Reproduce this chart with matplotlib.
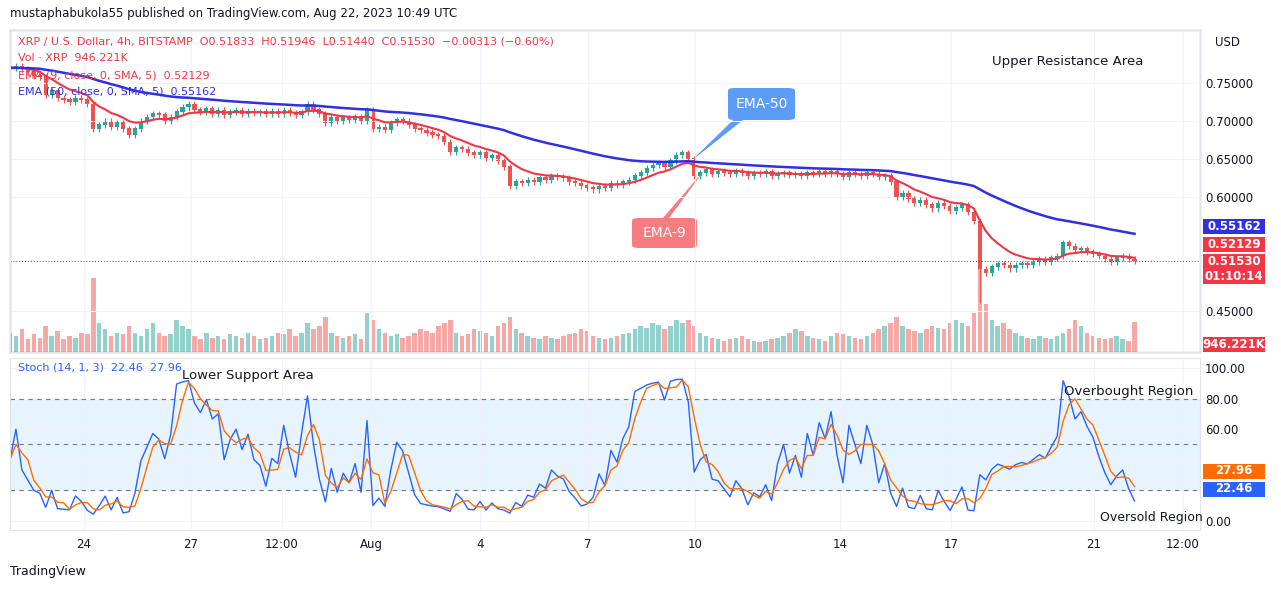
import matplotlib.pyplot as plt
import numpy as np
import pandas as pd
from matplotlib.patches import FancyBboxPatch, Polygon

W, H = 1281, 589

closes = [
    0.770, 0.772, 0.768, 0.765, 0.760, 0.758,
    0.735, 0.740, 0.730, 0.728, 0.725, 0.730,
    0.728, 0.722, 0.690, 0.695, 0.700, 0.692,
    0.698, 0.690, 0.682, 0.690, 0.700, 0.705,
    0.710, 0.708, 0.700, 0.705, 0.712, 0.718,
    0.722, 0.715, 0.712, 0.716, 0.710, 0.714,
    0.708, 0.712, 0.714, 0.710, 0.713, 0.711,
    0.712, 0.709, 0.713, 0.710, 0.714, 0.711,
    0.708, 0.712, 0.722, 0.715, 0.710, 0.698,
    0.705, 0.700, 0.704, 0.702, 0.706, 0.700,
    0.715, 0.690, 0.692, 0.688, 0.698, 0.702,
    0.700, 0.695, 0.690, 0.688, 0.685, 0.682,
    0.680, 0.672, 0.660, 0.665, 0.663, 0.658,
    0.655, 0.658, 0.652, 0.654, 0.648, 0.640,
    0.615, 0.620, 0.618, 0.622, 0.620, 0.625,
    0.623, 0.628, 0.626, 0.625, 0.620, 0.618,
    0.615, 0.612, 0.610, 0.614, 0.612, 0.618,
    0.616, 0.620, 0.622, 0.628, 0.632, 0.638,
    0.642, 0.645, 0.640, 0.648, 0.655, 0.658,
    0.650, 0.628, 0.632, 0.636, 0.630, 0.634,
    0.632, 0.630, 0.634, 0.632, 0.628, 0.631,
    0.630, 0.633, 0.628, 0.630, 0.632, 0.629,
    0.630, 0.628, 0.632, 0.630, 0.633, 0.631,
    0.634, 0.630, 0.626, 0.632, 0.630, 0.628,
    0.632, 0.630, 0.626, 0.628, 0.620, 0.600,
    0.605, 0.598, 0.592, 0.596, 0.590, 0.585,
    0.592, 0.588, 0.582, 0.586, 0.590, 0.580,
    0.568, 0.505, 0.500, 0.508, 0.512, 0.510,
    0.506, 0.510, 0.512, 0.510, 0.514, 0.518,
    0.515, 0.520, 0.522, 0.540, 0.535, 0.530,
    0.532, 0.528, 0.525, 0.522, 0.518, 0.515,
    0.520, 0.522, 0.518, 0.5153,
]
# volume in thousands
volumes = [
    600, 500, 700, 400, 550, 450, 800, 500, 650, 400,
    500, 450, 600, 550, 2300, 900, 700, 500, 600, 550,
    800, 600, 500, 700, 900, 600, 500, 550, 1000, 800,
    700, 500, 400, 600, 450, 500, 400, 550, 500, 450,
    600, 500, 400, 450, 500, 600, 550, 700, 500, 600,
    900, 700, 800, 1100, 600, 500, 450, 500, 550, 400,
    1200, 1000, 700, 600, 500, 550, 450, 500, 600, 700,
    650, 600, 800, 900, 1000, 600, 500, 550, 700, 650,
    600, 500, 800, 900, 1100, 700, 600, 500, 450, 400,
    500, 450, 400, 500, 550, 600, 700, 650, 500, 450,
    400, 450, 500, 550, 600, 700, 800, 750, 900, 850,
    700, 800, 1000, 900, 1000, 800, 600, 500, 450, 400,
    350, 400, 450, 500, 400, 350, 300, 350, 400, 450,
    500, 600, 700, 650, 500, 450, 400, 350, 500, 600,
    550, 500, 450, 400, 500, 600, 700, 800, 900, 1100,
    800, 700, 650, 600, 700, 800, 750, 700, 900, 1000,
    900, 800, 1200, 2600, 1500, 1000, 800, 900, 700, 600,
    500, 450, 400, 500, 450, 400, 500, 600, 700, 1000,
    800, 600, 500, 450, 400, 450, 500, 400, 350, 946,
]
extra_low = {163: 0.460}

date_labels = ["24", "27", "12:00", "Aug", "4", "7", "10", "14", "17", "21", "12:00"]
date_px = [84, 191, 282, 371, 480, 588, 695, 840, 951, 1094, 1183]

UP, DN = "#26a69a", "#ef5350"
c = np.array(closes)
o = np.r_[c[0] + 0.002, c[:-1]]
hi = np.maximum(o, c) + 0.004
lo = np.minimum(o, c) - 0.004
for kk, v in extra_low.items():
    lo[kk] = v
n = len(c)
x = np.arange(n)
s = pd.Series(c)
ema9 = s.ewm(span=9, adjust=False).mean()
ema50 = s.ewm(span=50, adjust=False).mean()
hh = pd.Series(hi).rolling(14, min_periods=1).max()
ll = pd.Series(lo).rolling(14, min_periods=1).min()
k = 100 * (s - ll) / (hh - ll)
d = k.rolling(3, min_periods=1).mean()

fig = plt.figure(figsize=(W / 100, H / 100), dpi=100)
fig.patch.set_facecolor("white")
def rect(l, t, r, b):
    return [l / W, 1 - b / H, (r - l) / W, (b - t) / H]

ax = fig.add_axes(rect(10, 30, 1200, 352))
axv = ax.twinx()
axs = fig.add_axes(rect(10, 358, 1200, 530))
px2i = lambda p: (p - 10) / 5.95
for a in (ax, axs):
    a.set_xlim(px2i(10), px2i(1200))
    for sp in a.spines.values():
        sp.set_color("#e0e3eb")
    a.tick_params(length=0, labelsize=8.5, colors="#131722")
    a.grid(True, color="#f0f3fa", lw=0.8)
    a.yaxis.tick_right()
ax.set_xticks([px2i(p) for p in date_px])
ax.set_xticklabels([])
axs.set_xticks([px2i(p) for p in date_px])
axs.set_xticklabels(date_labels)
axs.tick_params(axis="x", pad=6)
ax.set_ylim(0.396, 0.820)
ax.set_yticks([0.45, 0.60, 0.65, 0.70, 0.75])
ax.set_yticklabels(["0.45000", "0.60000", "0.65000", "0.70000", "0.75000"])
ax.set_zorder(2); axv.set_zorder(1); ax.patch.set_visible(False)

cols = [UP if cc >= oo else DN for cc, oo in zip(c, o)]
axv.bar(x, volumes, width=0.75, color=cols, alpha=0.5)
axv.set_ylim(0, max(volumes) / 0.26)
axv.set_yticks([])
ax.vlines(x, lo, hi, colors=cols, lw=0.8)
ax.bar(x, np.abs(c - o) + 0.0008, bottom=np.minimum(o, c), width=0.7, color=cols)
ax.plot(x, ema9, color="#f23645", lw=1.5)
ax.plot(x, ema50, color="#3030e0", lw=1.8)
ax.axhline(c[-1], color="#555", lw=0.7, ls=(0, (1, 2)))

axs.set_ylim(-5.9, 106.5)
axs.set_yticks([0, 20, 40, 60, 80, 100])
axs.set_yticklabels(["0.00", "", "", "60.00", "80.00", "100.00"])
axs.axhspan(20, 80, color="#2196f3", alpha=0.1)
for lv in (20, 50, 80):
    axs.axhline(lv, color="#787b86", lw=0.8, ls=(0, (4, 4)))
axs.plot(x, k, color="#2962ff", lw=1)
axs.plot(x, d, color="#ff6d00", lw=1)

def t(px, py, s, **kw):
    fig.text(px / W, 1 - py / H, s, va="center", **kw)
t(10, 14, "mustaphabukola55 published on TradingView.com, Aug 22, 2023 10:49 UTC", fontsize=8.5, color="#131722")
t(18, 41, "XRP / U.S. Dollar, 4h, BITSTAMP  O0.51833  H0.51946  L0.51440  C0.51530  −0.00313 (−0.60%)", fontsize=8, color="#f23645")
t(18, 58, "Vol · XRP  946.221K", fontsize=8, color="#f23645")
t(18, 75, "EMA (9, close, 0, SMA, 5)  0.52129", fontsize=8, color="#f23645")
t(18, 92, "EMA (50, close, 0, SMA, 5)  0.55162", fontsize=8, color="#3030e0")
t(18, 368, "Stoch (14, 1, 3)  22.46  27.96", fontsize=8, color="#2962ff")
t(992, 61, "Upper Resistance Area", fontsize=9.5, color="#131722")
t(182, 375, "Lower Support Area", fontsize=9.5, color="#131722")
t(1064, 392, "Overbought Region", fontsize=9.5, color="#131722")
t(1100, 518, "Oversold Region", fontsize=9, color="#131722")
t(1215, 43, "USD", fontsize=8.5, color="#131722")
t(10, 572, "TradingView", fontsize=9, color="#131722")

def box(l, tp, r, b, fc, s, tip):
    fig.patches.append(Polygon([(l / W + 0.004, 1 - b / H), ((l + 15) / W, 1 - b / H),
                                (tip[0] / W, 1 - tip[1] / H)], closed=True, fc=fc, ec="none",
                               transform=fig.transFigure))
    fig.patches.append(FancyBboxPatch((l / W, 1 - b / H), (r - l) / W, (b - tp) / H,
                                      boxstyle="round,pad=0,rounding_size=0.005", fc=fc, ec="none",
                                      transform=fig.transFigure))
    t((l + r) / 2, (tp + b) / 2, s, fontsize=10, color="white", ha="center")
box(728, 88, 795, 120, "#5b9cf6", "EMA-50", (690, 162))
box(632, 218, 697, 248, "#f77c80", "EMA-9", (706, 168))

def lab(py, s, fc, h=15):
    fig.patches.append(FancyBboxPatch((1203 / W, 1 - (py + h / 2) / H), 62 / W, h / H,
                                      boxstyle="square,pad=0", fc=fc, ec="none", transform=fig.transFigure))
    t(1234, py, s, fontsize=8.5, color="white", ha="center", fontweight="bold")
lab(227, "0.55162", "#3030e0")
lab(244, "0.52129", "#f23645")
lab(269, "0.51530\n01:10:14", "#f23645", h=30)
lab(344, "946.221K", "#f23645")
lab(471, "27.96", "#ff6d00")
lab(489, "22.46", "#2962ff")

fig.savefig("out.png", dpi=100)
